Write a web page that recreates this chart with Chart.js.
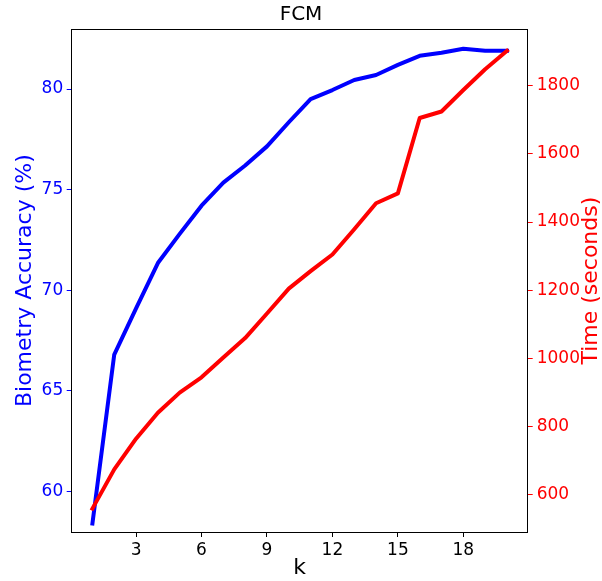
<!DOCTYPE html>
<html>
<head>
<meta charset="utf-8">
<script src="https://cdn.jsdelivr.net/npm/chart.js@4/dist/chart.umd.min.js"></script>
<style>
  html, body { margin: 0; padding: 0; background: #fff; }
  #wrap { width: 602px; height: 581px; }
</style>
</head>
<body>
<div id="wrap"><canvas id="fcm" width="602" height="581"></canvas></div>
<script>
var ks = [1, 2, 3, 4, 5, 6, 7, 8, 9, 10, 11, 12, 13, 14, 15, 16, 17, 18, 19, 20];
var accuracy = [58.4, 66.8, 69.1, 71.35, 72.8, 74.2, 75.35, 76.2, 77.15, 78.35,
  79.5, 79.95, 80.45, 80.7, 81.2, 81.65, 81.8, 82.0, 81.9, 81.9];
var timeSec = [560, 675, 765, 841, 900, 945, 1003, 1060, 1132, 1205,
  1256, 1305, 1379, 1455, 1484, 1705, 1724, 1787, 1848, 1902];
var kTicks = [3, 6, 9, 12, 15, 18];
var accTicks = [60, 65, 70, 75, 80];
var timeTicks = [600, 800, 1000, 1200, 1400, 1600, 1800];

var font = 'DejaVu Sans';

var toPoints = (xs, ys) => xs.map((x, i) => ({ x: x, y: ys[i] }));
var setTicks = list => scale => { scale.ticks = list.map(v => ({ value: v })); };
var plain = v => String(v);

// matplotlib draws a full box, chart.js has no top spine;
// the twin axis label also reads bottom-to-top like the left one
var boxPlugin = {
  id: 'box',
  afterDraw(chart) {
    var a = chart.chartArea, ctx = chart.ctx;
    ctx.save();
    ctx.strokeStyle = '#000';
    ctx.lineWidth = 1;
    ctx.beginPath();
    ctx.moveTo(a.left, Math.round(a.top) + 0.5);
    ctx.lineTo(a.right, Math.round(a.top) + 0.5);
    ctx.stroke();

    ctx.translate(591, (a.top + a.bottom) / 2);
    ctx.rotate(-Math.PI / 2);
    ctx.fillStyle = '#ff0000';
    ctx.font = '22px "' + font + '"';
    ctx.textAlign = 'center';
    ctx.textBaseline = 'middle';
    ctx.fillText('Time (seconds)', 0, 0);
    ctx.restore();
  }
};

new Chart(document.getElementById('fcm'), {
  type: 'line',
  data: {
    datasets: [
      {
        label: 'Accuracy',
        data: toPoints(ks, accuracy),
        yAxisID: 'y',
        borderColor: '#0000ff',
        borderWidth: 4,
        order: 1
      },
      {
        label: 'Time',
        data: toPoints(ks, timeSec),
        yAxisID: 'y1',
        borderColor: '#ff0000',
        borderWidth: 4,
        order: 0
      }
    ]
  },
  options: {
    responsive: false,
    animation: false,
    devicePixelRatio: 1,
    layout: { padding: 0 },
    elements: {
      point: { radius: 0 },
      line: { tension: 0, borderCapStyle: 'square', borderJoinStyle: 'round' }
    },
    plugins: {
      legend: { display: false },
      tooltip: { enabled: false },
      title: {
        display: true,
        text: 'FCM',
        color: '#000',
        font: { family: font, size: 20, weight: 'normal', lineHeight: 1.2 },
        padding: { top: 2.8, bottom: 2.5 }
      }
    },
    scales: {
      x: {
        type: 'linear',
        min: 0.05,
        max: 20.95,
        afterBuildTicks: setTicks(kTicks),
        afterFit: scale => { scale.height = 49; },
        grid: { drawOnChartArea: false, tickLength: 5, tickColor: '#000' },
        border: { color: '#000', width: 1 },
        ticks: { color: '#000', padding: 3, callback: plain, font: { family: font, size: 17 } },
        title: {
          display: true,
          text: 'k',
          color: '#000',
          font: { family: font, size: 22, lineHeight: 1 },
          padding: { top: 0, bottom: 1.7 }
        }
      },
      y: {
        position: 'left',
        min: 57.98,
        max: 82.97,
        afterBuildTicks: setTicks(accTicks),
        afterFit: scale => { scale.width = 71.7; },
        grid: { drawOnChartArea: false, tickLength: 5, tickColor: '#0000ff' },
        border: { color: '#000', width: 1 },
        ticks: { color: '#0000ff', padding: 3.5, callback: plain, font: { family: font, size: 17 } },
        title: {
          display: true,
          text: 'Biometry Accuracy (%)',
          color: '#0000ff',
          font: { family: font, size: 22, lineHeight: 1.2 },
          padding: { top: 12.4, bottom: 0 }
        }
      },
      y1: {
        position: 'right',
        min: 491.5,
        max: 1965,
        afterBuildTicks: setTicks(timeTicks),
        afterFit: scale => { scale.width = 74.3; },
        grid: { drawOnChartArea: false, tickLength: 5, tickColor: '#ff0000' },
        border: { color: '#000', width: 1 },
        ticks: { color: '#ff0000', padding: 4, callback: plain, font: { family: font, size: 17 } }
      }
    }
  },
  plugins: [boxPlugin]
});
</script>
</body>
</html>
